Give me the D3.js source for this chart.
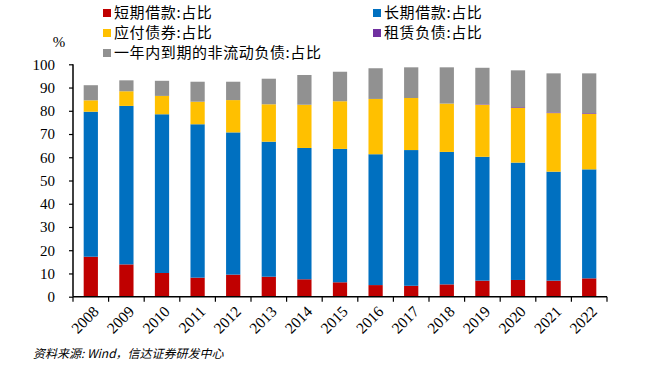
<!DOCTYPE html>
<html><head><meta charset="utf-8">
<script src="https://cdn.jsdelivr.net/npm/d3@7/dist/d3.min.js"></script>
<style>
html,body{margin:0;padding:0;background:#fff;}
svg{display:block;}
</style></head>
<body>
<script>
const years = ["2008","2009","2010","2011","2012","2013","2014","2015","2016","2017","2018","2019","2020","2021","2022"];
const shortLoan = [17.2,13.9,10.2,8.2,9.5,8.6,7.5,6.2,5.0,4.7,5.3,6.9,7.2,6.9,7.9];
const longLoan  = [62.4,68.2,68.3,66.0,61.2,58.1,56.5,57.4,56.3,58.4,57.0,53.3,50.5,46.9,46.9];
const bonds     = [4.9,6.3,7.9,9.7,13.9,16.1,18.6,20.5,23.8,22.4,20.8,22.4,23.6,25.2,23.9];
const lease     = [0,0,0,0,0,0,0,0,0,0,0,0.2,0.3,0.3,0.3];
const currentNC = [6.5,4.7,6.5,8.6,7.9,11.0,12.8,12.7,13.2,13.2,15.6,15.7,15.8,16.8,17.1];
const yTicks = [0,10,20,30,40,50,60,70,80,90,100];
const seriesNames = ["短期借款:占比","长期借款:占比","应付债券:占比","租赁负债:占比","一年内到期的非流动负债:占比"];
const seriesColors = ["#C00000","#0070C0","#FFC000","#7030A0","#919191"];
const sourceText = "资料来源: Wind，信达证券研发中心";

const W = 646, H = 366;
const svg = d3.select("body").append("svg").attr("width", W).attr("height", H);

const keys = ["s0","s1","s2","s3","s4"];
const seriesData = [shortLoan, longLoan, bonds, lease, currentNC];
const table = years.map((yr, i) => {
  const o = {year: yr};
  keys.forEach((k, j) => o[k] = seriesData[j][i]);
  return o;
});
const stacked = d3.stack().keys(keys)(table);

const x = d3.scaleBand().domain(years).range([73, 607]).paddingInner(0.6).paddingOuter(0.3);
const y = d3.scaleLinear().domain([0, 100]).range([296.7, 64.3]);

// bars
svg.append("g").selectAll("g").data(stacked).join("g")
  .attr("fill", (d, i) => seriesColors[i])
  .selectAll("rect").data(d => d).join("rect")
  .attr("x", d => x(d.data.year))
  .attr("width", x.bandwidth())
  .attr("y", d => y(d[1]))
  .attr("height", d => Math.max(0, y(d[0]) - y(d[1])));

// y axis
const yAxis = d3.axisLeft(y).tickValues(yTicks).tickSize(4).tickPadding(14);
const gy = svg.append("g").attr("transform", "translate(73,0)").call(yAxis);
gy.select(".domain").attr("stroke", "#000").attr("stroke-width", 1.5).attr("d", `M0,${y(0)}V${y(100)}`);
gy.selectAll(".tick line").attr("stroke", "#000").attr("stroke-width", 1.2);
gy.selectAll(".tick text").attr("font-family", "Liberation Serif, Times New Roman, serif").attr("font-size", 15).attr("fill", "#000");

// x axis
const step = x.step();
const gx = svg.append("g");
gx.append("line").attr("x1", 73).attr("x2", 607).attr("y1", y(0)).attr("y2", y(0)).attr("stroke", "#000").attr("stroke-width", 1.5);
const bounds = years.map(d => x(d) - step * 0.3).concat([x(years[years.length-1]) + x.bandwidth() + step * 0.3]);
gx.selectAll("line.tk").data(bounds).join("line").attr("class","tk")
  .attr("x1", d => d).attr("x2", d => d).attr("y1", y(0)).attr("y2", y(0) + 5)
  .attr("stroke", "#000").attr("stroke-width", 1.2);
gx.selectAll("text").data(years).join("text")
  .attr("transform", d => `translate(${x(d) + x.bandwidth()/2 + 5},${y(0) + 12}) rotate(-45)`)
  .attr("text-anchor", "end").attr("dy", "0.35em")
  .attr("font-family", "Liberation Serif, Times New Roman, serif").attr("font-size", 15.5)
  .text(d => d);

// % label
svg.append("text").attr("x", 59).attr("y", 47).attr("text-anchor", "middle")
  .attr("font-family", "Liberation Serif, Times New Roman, serif").attr("font-size", 15).text("%");

// legend
const legendPos = [[103,13],[373,13],[103,33],[373,33],[103,53]];
const lg = svg.append("g");
seriesNames.forEach((name, i) => {
  const [lx, ly] = legendPos[i];
  lg.append("rect").attr("x", lx).attr("y", ly - 4).attr("width", 8).attr("height", 8).attr("fill", seriesColors[i]);
  lg.append("text").attr("x", lx + 11).attr("y", ly).attr("dy", "0.36em")
    .attr("font-family", "Noto Sans CJK SC, sans-serif").attr("font-size", 15).attr("letter-spacing", 0.6).attr("fill", "#000").text(name);
});

// source
svg.append("text").attr("x", 33).attr("y", 358)
  .attr("font-family", "Noto Sans CJK SC, sans-serif").attr("font-size", 12).attr("font-style", "italic")
  .text(sourceText);
</script>
</body></html>
